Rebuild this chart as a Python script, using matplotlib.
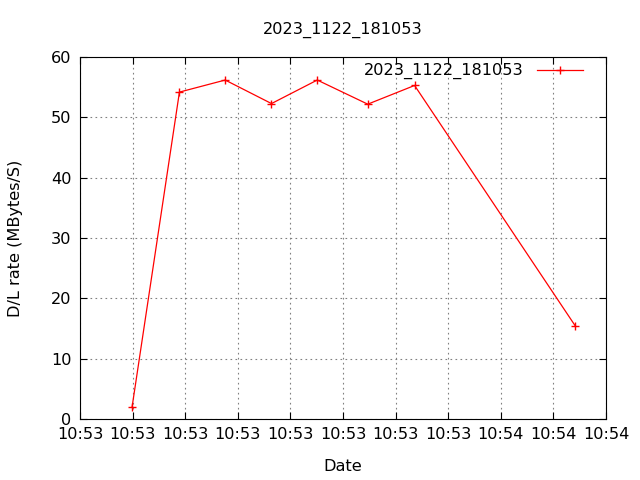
import matplotlib
matplotlib.use('Agg')
import matplotlib.pyplot as plt

# seconds from start, D/L rate
secs = [9.9, 18.9, 27.6, 36.4, 45.1, 54.7, 63.6, 94.1]
rate = [2.0, 54.2, 56.2, 52.3, 56.2, 52.2, 55.3, 15.5]
tick_pos = [0, 10, 20, 30, 40, 50, 60, 70, 80, 90, 100]
tick_lab = ['10:53'] * 8 + ['10:54'] * 3
name = '2023_1122_181053'

fs = 11.6
fig = plt.figure(figsize=(6.4, 4.8), dpi=100)
ax = fig.add_axes([0.125, 0.127, 0.822, 0.754])

ax.plot(secs, rate, color='red', lw=0.9, marker='+', ms=6, mew=1, label=name)

ax.set_xlim(0, 100)
ax.set_ylim(0, 60)
ax.set_xticks(tick_pos)
ax.set_xticklabels(tick_lab)
ax.set_yticks(range(0, 61, 10))
ax.tick_params(direction='in', top=True, right=True, labelsize=fs, length=5, pad=6)
ax.grid(True, color='gray', linestyle=(0, (1.5, 3)), lw=0.8)

ax.set_title(name, fontsize=fs, pad=17)
ax.set_xlabel('Date', fontsize=fs, labelpad=12)
ax.set_ylabel('D/L rate (MBytes/S)', fontsize=fs, labelpad=20)

ax.legend(loc='upper right', frameon=False, markerfirst=False, fontsize=fs,
          handlelength=2.9, handletextpad=0.8, borderaxespad=0.2,
          bbox_to_anchor=(0.975, 1.01))

fig.savefig('out.png', dpi=100)
